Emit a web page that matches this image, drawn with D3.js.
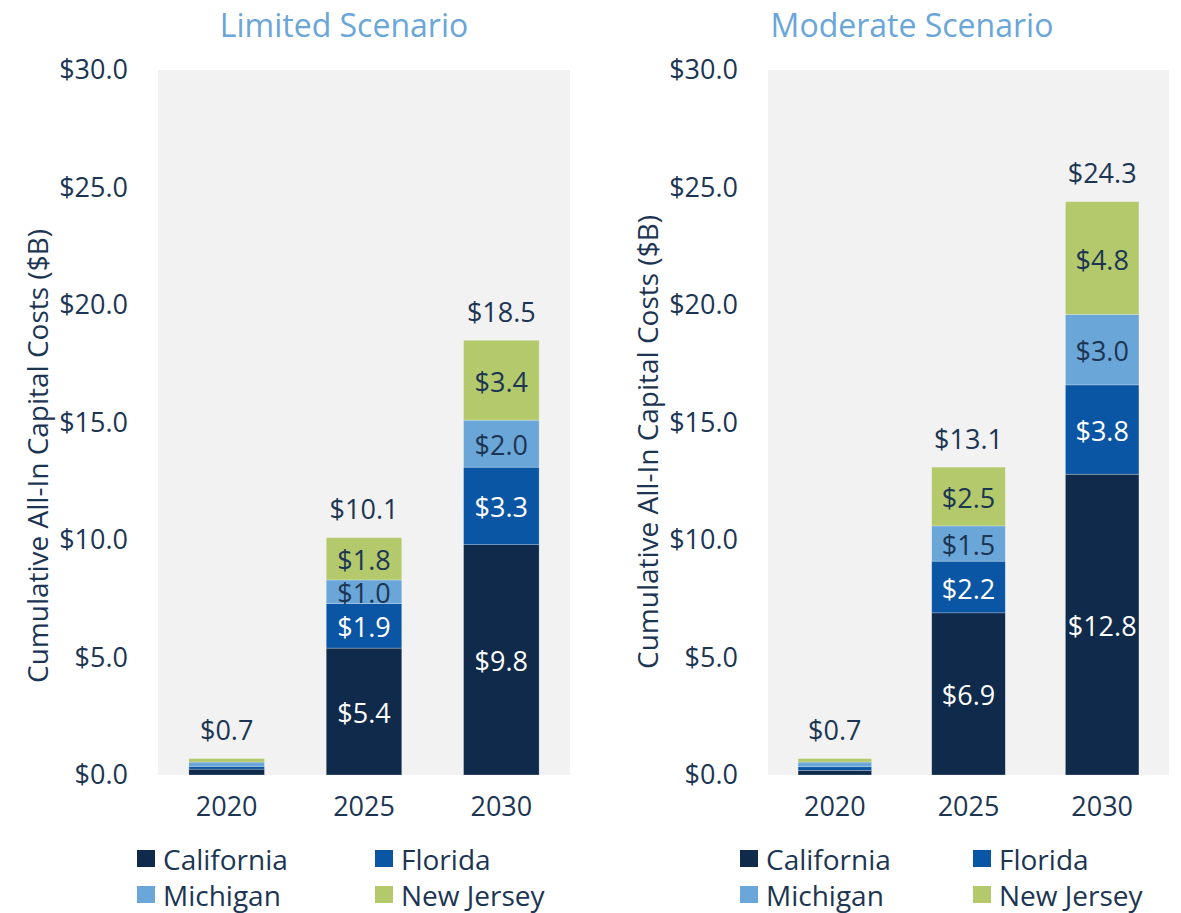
<!DOCTYPE html>
<html>
<head>
<meta charset="utf-8">
<script src="https://cdn.jsdelivr.net/npm/d3@7"></script>
<style>
    body { margin: 0; background: #ffffff; }
    svg  { font-family: "Open Sans", "Noto Sans", sans-serif; font-weight: 370; }
</style>
</head>
<body>
<svg id="chart" width="1181" height="913"></svg>
<script>
// 数据
var v_Years  = ["2020", "2025", "2030"];
var v_States = ["California", "Florida", "Michigan", "New Jersey"];
var v_YTicks = [0, 5, 10, 15, 20, 25, 30];

var v_LimitedCalifornia  = [0.25, 5.4, 9.8];
var v_LimitedFlorida     = [0.12, 1.9, 3.3];
var v_LimitedMichigan    = [0.18, 1.0, 2.0];
var v_LimitedNewJersey   = [0.15, 1.8, 3.4];
var v_LimitedTotals      = [0.7, 10.1, 18.5];

var v_ModerateCalifornia = [0.2, 6.9, 12.8];
var v_ModerateFlorida    = [0.15, 2.2, 3.8];
var v_ModerateMichigan   = [0.2, 1.5, 3.0];
var v_ModerateNewJersey  = [0.15, 2.5, 4.8];
var v_ModerateTotals     = [0.7, 13.1, 24.3];

var v_Colors     = ["#0f2a4a", "#0b56a4", "#6aa6d8", "#b3c96b"];
var v_TextColors = ["#ffffff", "#ffffff", "#1c3553", "#1c3553"];
var v_Ink        = "#1c3553";
var v_TitleColor = "#6aa6d8";
var v_FontSize   = 27;



/**
  * 画一个场景的堆叠柱状图
  */
function drawPanel(i_SVG ,i_Title ,i_Series ,i_Totals ,i_Left ,i_Right ,i_TitleX ,i_YTitleY ,i_LegendX ,i_LegendX2)
{
    let v_Top    = 70;
    let v_Bottom = 775;

    let v_X = d3.scaleBand().domain(v_Years).range([i_Left, i_Right]).paddingInner(0.45).paddingOuter(0.225);
    let v_Y = d3.scaleLinear().domain([0, 30]).range([v_Bottom, v_Top]);

    let v_G = i_SVG.append("g");

    // 灰色绘图区
    v_G.append("rect")
        .attr("x", i_Left).attr("y", v_Top)
        .attr("width", i_Right - i_Left).attr("height", v_Bottom - v_Top)
        .attr("fill", "#f2f2f2");

    // 标题
    v_G.append("text")
        .attr("x", i_TitleX).attr("y", 37)
        .attr("text-anchor", "middle")
        .attr("font-size", 32)
        .attr("fill", v_TitleColor)
        .text(i_Title);

    // Y轴
    let v_YAxis = d3.axisLeft(v_Y).tickValues(v_YTicks).tickSize(0).tickPadding(30)
        .tickFormat(function (d) { return "$" + d.toFixed(1); });
    let v_YG = v_G.append("g").attr("transform", "translate(" + i_Left + ",0)").call(v_YAxis);
    v_YG.attr("font-family", null).attr("font-size", null);
    v_YG.select(".domain").remove();
    v_YG.selectAll("text").attr("font-size", v_FontSize).attr("fill", v_Ink);

    v_G.append("text")
        .attr("transform", "translate(" + (i_Left - 121) + "," + i_YTitleY + ") rotate(-90)")
        .attr("text-anchor", "middle")
        .attr("dominant-baseline", "central")
        .attr("font-size", 28)
        .attr("fill", v_Ink)
        .text("Cumulative All-In Capital Costs ($B)");

    // X轴
    let v_XAxis = d3.axisBottom(v_X).tickSize(0).tickPadding(22);
    let v_XG = v_G.append("g").attr("transform", "translate(0," + v_Bottom + ")").call(v_XAxis);
    v_XG.attr("font-family", null).attr("font-size", null);
    v_XG.select(".domain").remove();
    v_XG.selectAll("text").attr("font-size", v_FontSize).attr("fill", v_Ink);

    // 堆叠
    let v_Rows = v_Years.map(function (y, i)
    {
        let v_Row = { year: y };
        v_States.forEach(function (s, k) { v_Row[s] = i_Series[k][i]; });
        return v_Row;
    });
    let v_Stack = d3.stack().keys(v_States)(v_Rows);

    v_Stack.forEach(function (layer, k)
    {
        let v_Layer = v_G.append("g");
        v_Layer.selectAll("rect").data(layer).join("rect")
            .attr("x",      function (d) { return v_X(d.data.year); })
            .attr("y",      function (d) { return v_Y(d[1]); })
            .attr("width",  v_X.bandwidth())
            .attr("height", function (d) { return v_Y(d[0]) - v_Y(d[1]); })
            .attr("fill", v_Colors[k])
            .attr("stroke", "#ffffff").attr("stroke-opacity", 0.4).attr("stroke-width", 0.6);

        v_Layer.selectAll("text").data(layer.filter(function (d) { return d[1] - d[0] >= 0.5; })).join("text")
            .attr("x", function (d) { return v_X(d.data.year) + v_X.bandwidth() / 2; })
            .attr("y", function (d) { return (v_Y(d[0]) + v_Y(d[1])) / 2 + 1; })
            .attr("text-anchor", "middle")
            .attr("dominant-baseline", "central")
            .attr("font-size", v_FontSize)
            .attr("fill", v_TextColors[k])
            .text(function (d) { return "$" + (d[1] - d[0]).toFixed(1); });
    });

    // 合计
    v_G.selectAll(".total").data(v_Years).join("text")
        .attr("class", "total")
        .attr("x", function (d) { return v_X(d) + v_X.bandwidth() / 2; })
        .attr("y", function (d, i) { return v_Y(d3.sum(i_Series, function (s) { return s[i]; })) - 29; })
        .attr("text-anchor", "middle")
        .attr("dominant-baseline", "central")
        .attr("font-size", v_FontSize)
        .attr("fill", v_Ink)
        .text(function (d, i) { return "$" + i_Totals[i].toFixed(1); });

    // 图例
    let v_LegendPos = [[i_LegendX, 858], [i_LegendX2, 858], [i_LegendX, 894], [i_LegendX2, 894]];
    v_States.forEach(function (s, k)
    {
        v_G.append("rect")
            .attr("x", v_LegendPos[k][0]).attr("y", v_LegendPos[k][1] - 8)
            .attr("width", 18).attr("height", 17)
            .attr("fill", v_Colors[k]);
        v_G.append("text")
            .attr("x", v_LegendPos[k][0] + 26).attr("y", v_LegendPos[k][1] + 1)
            .attr("dominant-baseline", "central")
            .attr("font-size", 28)
            .attr("fill", v_Ink)
            .text(s);
    });
}



var v_SVG = d3.select("#chart");

drawPanel(v_SVG ,"Limited Scenario"
         ,[v_LimitedCalifornia, v_LimitedFlorida, v_LimitedMichigan, v_LimitedNewJersey]
         ,v_LimitedTotals ,158 ,570 ,344 ,456 ,137 ,375);

drawPanel(v_SVG ,"Moderate Scenario"
         ,[v_ModerateCalifornia, v_ModerateFlorida, v_ModerateMichigan, v_ModerateNewJersey]
         ,v_ModerateTotals ,768 ,1169 ,912 ,442 ,740 ,973);
</script>
</body>
</html>
